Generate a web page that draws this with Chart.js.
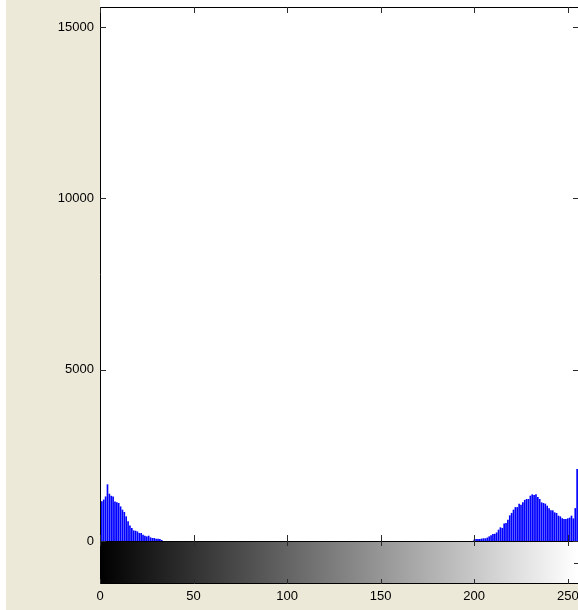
<!DOCTYPE html>
<html>
<head>
<meta charset="utf-8">
<script src="https://cdn.jsdelivr.net/npm/chart.js@4/dist/chart.umd.min.js"></script>
<style>
  html, body { margin: 0; padding: 0; overflow: hidden; background: #ffffff; width: 578px; height: 610px; }
  canvas { display: block; }
</style>
</head>
<body>
<canvas id="hist" width="580" height="610"></canvas>
<script>
// Grey-level histogram of an 8-bit image (256 bins)
const xTicks = [0, 50, 100, 150, 200, 250];
const yTicks = [0, 5000, 10000, 15000];
const xMin = 0, xMax = 256;
const yMin = 0, yMax = 15590;

// dark pixels: bins 0..33
const darkStart = 0;
const darkCounts = [856, 1150, 1200, 1290, 1645, 1370, 1310, 1290, 1140, 1120,
                    1100, 1000, 905, 837, 710, 565, 440, 370, 300, 290,
                    270, 225, 225, 175, 145, 125, 145, 97, 78, 78,
                    58, 58, 50, 20];

// bright pixels: bins 200..255
const lightStart = 200;
const lightCounts = [30, 50, 50, 50, 60, 70, 70, 90, 125, 155,
                     195, 200, 240, 320, 390, 370, 500, 515, 610, 740,
                     810, 905, 980, 980, 1080, 1050, 1120, 1190, 1216, 1216,
                     1313, 1352, 1333, 1352, 1275, 1216, 1119, 1100, 1080, 1020,
                     944, 885, 885, 827, 808, 730, 710, 652, 632, 632,
                     652, 671, 730, 650, 950, 2090];

// full 256-bin table built from the two runs above (empty bins left blank)
const bins = [];
for (let i = 0; i < 256; i++) bins.push({ x: i, y: null });
darkCounts.forEach((v, k) => { bins[darkStart + k].y = v; });
lightCounts.forEach((v, k) => { bins[lightStart + k].y = v; });

const BEIGE = '#ece9d8';
const TICK = '#2a2a2a';
const FONT = { family: '"Liberation Sans", Arial, sans-serif', size: 13 };

const frame = {
  id: 'frame',
  beforeDraw(chart) {
    const { ctx, chartArea: a } = chart;
    ctx.save();
    ctx.fillStyle = '#ffffff';
    ctx.fillRect(0, 0, chart.width, chart.height);
    ctx.fillStyle = BEIGE;
    ctx.fillRect(6, 0, chart.width - 6, chart.height);
    ctx.fillStyle = '#ffffff';
    ctx.fillRect(a.left, 0, a.right - a.left, a.bottom);
    ctx.restore();
  },
  afterDraw(chart) {
    const { ctx, chartArea: a } = chart;
    const xs = chart.scales.x, ys = chart.scales.y;
    const cbTop = a.bottom, cbBot = 584;
    ctx.save();

    // grey colour bar under the axis
    const g = ctx.createLinearGradient(xs.getPixelForValue(0), 0, xs.getPixelForValue(255), 0);
    g.addColorStop(0, '#000000');
    g.addColorStop(1, '#ffffff');
    ctx.fillStyle = g;
    ctx.fillRect(a.left, cbTop, a.right - a.left, cbBot - cbTop);

    ctx.strokeStyle = '#000000';
    ctx.lineWidth = 1;
    ctx.beginPath();
    // plot box
    ctx.moveTo(a.left + 0.5, a.bottom);
    ctx.lineTo(a.left + 0.5, a.top + 0.5);
    ctx.lineTo(a.right - 0.5, a.top + 0.5);
    ctx.lineTo(a.right - 0.5, a.bottom);
    // colour bar box
    ctx.moveTo(a.left + 0.5, cbTop + 0.5);
    ctx.lineTo(a.right - 0.5, cbTop + 0.5);
    ctx.moveTo(a.left + 0.5, cbTop);
    ctx.lineTo(a.left + 0.5, cbBot - 0.5);
    ctx.lineTo(a.right - 0.5, cbBot - 0.5);
    ctx.lineTo(a.right - 0.5, cbTop);
    ctx.stroke();

    // inward tick marks
    ctx.strokeStyle = TICK;
    ctx.beginPath();
    yTicks.forEach(v => {
      const y = Math.round(ys.getPixelForValue(v)) + 0.5;
      ctx.moveTo(a.left, y); ctx.lineTo(a.left + 6, y);
      ctx.moveTo(a.right, y); ctx.lineTo(a.right - 6, y);
    });
    xTicks.forEach(v => {
      const x = Math.round(xs.getPixelForValue(v)) + 0.5;
      ctx.moveTo(x, a.top); ctx.lineTo(x, a.top + 6);
      ctx.moveTo(x, a.bottom); ctx.lineTo(x, a.bottom - 6);
      ctx.moveTo(x, cbTop); ctx.lineTo(x, cbTop + 5);
      ctx.moveTo(x, cbBot); ctx.lineTo(x, cbBot - 5);
    });
    const midY = Math.round((cbTop + cbBot) / 2) + 0.5;
    ctx.moveTo(a.right, midY); ctx.lineTo(a.right - 5, midY);
    ctx.stroke();
    ctx.restore();
  }
};

new Chart(document.getElementById('hist'), {
  type: 'bar',
  data: {
    datasets: [{
      data: bins,
      backgroundColor: '#0000ff',
      borderWidth: 0,
      barThickness: 1
    }]
  },
  options: {
    responsive: false,
    animation: false,
    events: [],
    layout: { autoPadding: false, padding: { left: 0, top: 7, right: 1, bottom: 0 } },
    plugins: { legend: { display: false }, tooltip: { enabled: false } },
    scales: {
      x: {
        type: 'linear',
        min: xMin, max: xMax,
        offset: false,
        grid: { display: false, drawTicks: false },
        border: { display: false },
        afterFit(s) { s.height = 69; s.paddingLeft = 0; s.paddingRight = 0; },
        afterBuildTicks(s) { s.ticks = xTicks.map(v => ({ value: v })); },
        ticks: {
          autoSkip: false, maxRotation: 0, padding: 48,
          color: '#000000', font: FONT,
          callback: v => String(v)
        }
      },
      y: {
        type: 'linear',
        min: yMin, max: yMax,
        grid: { display: false, drawTicks: false },
        border: { display: false },
        afterFit(s) { s.width = 100; s.paddingTop = 0; s.paddingBottom = 0; },
        afterBuildTicks(s) { s.ticks = yTicks.map(v => ({ value: v })); },
        ticks: {
          padding: 6,
          color: '#000000', font: FONT,
          callback: v => String(v)
        }
      }
    }
  },
  plugins: [frame]
});
</script>
</body>
</html>
